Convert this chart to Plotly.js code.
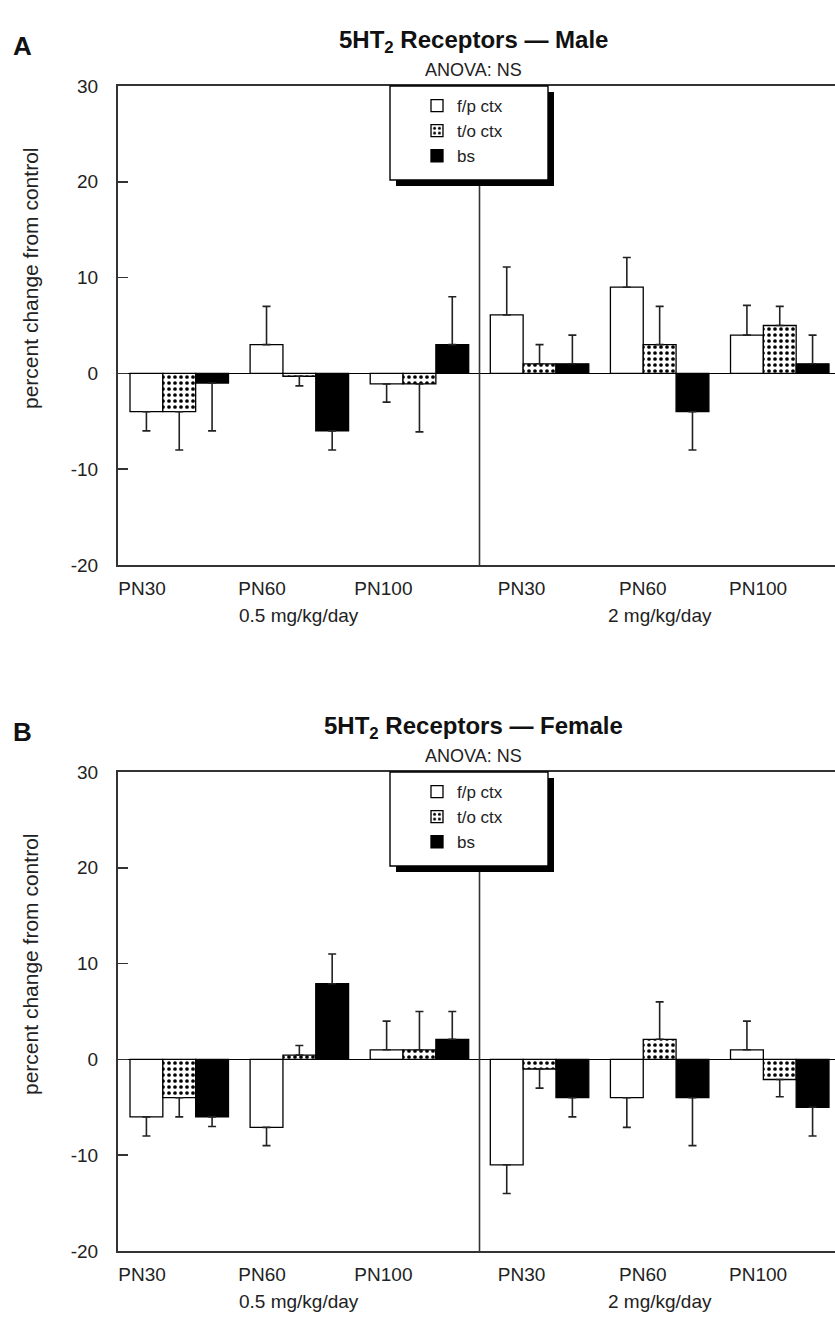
<!DOCTYPE html>
<html>
<head>
<meta charset="utf-8">
<script src="https://cdn.plot.ly/plotly-3.0.1.min.js"></script>
<style>html,body{margin:0;padding:0;background:#fff;}#chart{width:835px;height:1326px;}</style>
</head>
<body>
<div id="chart"></div>
<script>
// ---- data ----
const ageGroups = ['PN30', 'PN60', 'PN100', 'PN30', 'PN60', 'PN100'];
const doseLabels = ['0.5 mg/kg/day', '2 mg/kg/day'];
const regionNames = ['f/p ctx', 't/o ctx', 'bs'];
const yTickVals = [-20, -10, 0, 10, 20, 30];
const yTickText = ['-20', '-10', '0', '10', '20', '30'];

const maleFp = [-4, 3, -1.1, 6.1, 9, 4];
const maleFpErr = [2, 4, 1.9, 5, 3.1, 3.1];
const maleTo = [-4, -0.3, -1.1, 1, 3, 5];
const maleToErr = [4, 1, 5, 2, 4, 2];
const maleBs = [-1, -6, 3, 1, -4, 1];
const maleBsErr = [5, 2, 5, 3, 4, 3];

const femaleFp = [-6, -7.1, 1, -11, -4, 1];
const femaleFpErr = [2, 1.9, 3, 3, 3.1, 3];
const femaleTo = [-4, 0.45, 1, -1, 2.1, -2.1];
const femaleToErr = [2, 1, 4, 2, 3.9, 1.8];
const femaleBs = [-6, 7.9, 2.1, -4, -4, -5];
const femaleBsErr = [1, 3.1, 2.9, 2, 5, 3];

const panelTitles = ['5HT<sub>2</sub> Receptors — Male', '5HT<sub>2</sub> Receptors — Female'];
const panelLetters = ['A', 'B'];
const anovaText = 'ANOVA: NS';
const yTitle = 'percent change from control';

// ---- geometry (pixels) ----
const W = 835, H = 1326;
const plotL = 118, plotR = 835;
const panelTop = [86, 772], panelBot = [565, 1251];
const mT = panelTop[0], mB = H - panelBot[1];
const plotH = panelBot[1] - panelTop[0];
const px2x = p => (p - plotL) / (plotR - plotL);
const py2y = p => (panelBot[1] - p) / plotH;

const FONT = '"Liberation Sans", Arial, Helvetica, sans-serif';
const xPos = ageGroups.map((_, i) => i);
const labelShift = [-0.31, -0.31, -0.30, -0.15, -0.14, -0.18];

const styles = [
  {color: '#ffffff', line: {color: '#000', width: 1.3}},
  {color: '#ffffff', line: {color: '#000', width: 1.3},
   pattern: {shape: '.', fgcolor: '#000', bgcolor: '#fff', size: 6, solidity: 0.3}},
  {color: '#000000', line: {color: '#000', width: 1.3}}
];

function mk(vals, errs, k, p) {
  return {
    type: 'bar', x: xPos, y: vals, name: regionNames[k],
    xaxis: p === 0 ? 'x' : 'x2', yaxis: p === 0 ? 'y' : 'y2',
    legend: p === 0 ? 'legend' : 'legend2',
    marker: styles[k],
    error_y: {type: 'data', symmetric: false,
      array: vals.map((v, i) => v >= 0 ? errs[i] : 0),
      arrayminus: vals.map((v, i) => v < 0 ? errs[i] : 0),
      color: '#222', thickness: 1.6, width: 4},
    hoverinfo: 'y'
  };
}
const data = [
  mk(maleFp, maleFpErr, 0, 0), mk(maleTo, maleToErr, 1, 0), mk(maleBs, maleBsErr, 2, 0),
  mk(femaleFp, femaleFpErr, 0, 1), mk(femaleTo, femaleToErr, 1, 1), mk(femaleBs, femaleBsErr, 2, 1)
];

function xax(anchor) {
  return {anchor: anchor, range: [-0.51, 5.46], showgrid: false, zeroline: false,
    showline: true, mirror: true, linecolor: '#333', linewidth: 2,
    tickmode: 'array', tickvals: xPos.map((v, i) => v + labelShift[i]), ticktext: ageGroups,
    ticks: '', ticklabelstandoff: 5, tickfont: {family: FONT, size: 19, color: '#222'}, fixedrange: true};
}
function yax(p, anchor) {
  return {anchor: anchor, domain: [py2y(panelBot[p]), py2y(panelTop[p])],
    range: [-20, 30], tickmode: 'array', tickvals: yTickVals, ticktext: yTickText, showgrid: false,
    zeroline: true, zerolinecolor: '#000', zerolinewidth: 1.6,
    showline: true, linecolor: '#333', linewidth: 2,
    ticks: 'inside', ticklen: 10, tickwidth: 1.6, tickcolor: '#333',
    tickfont: {family: FONT, size: 19, color: '#222'}, ticklabelstandoff: 14, fixedrange: true};
}

const annotations = [], shapes = [];
[0, 1].forEach(p => {
  const xa = p === 0 ? 'x' : 'x2';
  const top = panelTop[p], bot = panelBot[p];
  annotations.push({xref: 'paper', yref: 'paper', x: px2x(11), y: py2y(top - 40), xanchor: 'left', yanchor: 'middle',
    text: '<b>' + panelLetters[p] + '</b>', showarrow: false, font: {family: FONT, size: 26, color: '#111'}});
  annotations.push({xref: 'paper', yref: 'paper', x: px2x(473), y: py2y(top - 45), xanchor: 'center', yanchor: 'middle',
    text: '<b>' + panelTitles[p] + '</b>', showarrow: false, font: {family: FONT, size: 24, color: '#111'}});
  annotations.push({xref: 'paper', yref: 'paper', x: px2x(473), y: py2y(top - 16), xanchor: 'center', yanchor: 'middle',
    text: anovaText, showarrow: false, font: {family: FONT, size: 18, color: '#222'}});
  annotations.push({xref: 'paper', yref: 'paper', x: px2x(30), y: py2y(top + 193), xanchor: 'center', yanchor: 'middle',
    text: yTitle, textangle: -90, showarrow: false, font: {family: FONT, size: 21, color: '#222'}});
  doseLabels.forEach((d, j) => {
    annotations.push({xref: xa, yref: 'paper', x: 1 + 3 * j, y: py2y(bot + 50), xanchor: 'center', yanchor: 'middle',
      text: d, showarrow: false, font: {family: FONT, size: 19, color: '#222'}});
  });
  shapes.push({type: 'line', xref: xa, yref: 'paper', x0: 2.5, x1: 2.5, y0: py2y(bot), y1: py2y(top),
    line: {color: '#333', width: 1.6}, layer: 'above'});
  shapes.push({type: 'rect', xref: 'paper', yref: 'paper', x0: px2x(396), x1: px2x(554), y0: py2y(top + 100), y1: py2y(top + 6),
    fillcolor: '#000', line: {width: 0}, layer: 'above'});
  shapes.push({type: 'rect', xref: 'paper', yref: 'paper', x0: px2x(390), x1: px2x(548), y0: py2y(top + 94), y1: py2y(top),
    fillcolor: '#fff', line: {color: '#000', width: 1.4}, layer: 'above'});
});

const legendBase = {xref: 'paper', yref: 'paper', xanchor: 'left', yanchor: 'top', bgcolor: 'rgba(0,0,0,0)',
  borderwidth: 0, font: {family: FONT, size: 17, color: '#222'}, tracegroupgap: 0, itemwidth: 30};

const layout = {
  width: W, height: H, paper_bgcolor: '#fff', plot_bgcolor: '#fff',
  margin: {l: plotL, r: W - plotR, t: mT, b: mB},
  barmode: 'group', bargap: 0.18, bargroupgap: 0,
  xaxis: xax('y'), yaxis: yax(0, 'x'),
  xaxis2: xax('y2'), yaxis2: yax(1, 'x2'),
  showlegend: true,
  legend: Object.assign({}, legendBase, {x: px2x(417), y: py2y(panelTop[0] + 2)}),
  legend2: Object.assign({}, legendBase, {x: px2x(417), y: py2y(panelTop[1] + 2)}),
  annotations: annotations, shapes: shapes
};

Plotly.newPlot('chart', data, layout, {displayModeBar: false, staticPlot: true});
</script>
</body>
</html>
